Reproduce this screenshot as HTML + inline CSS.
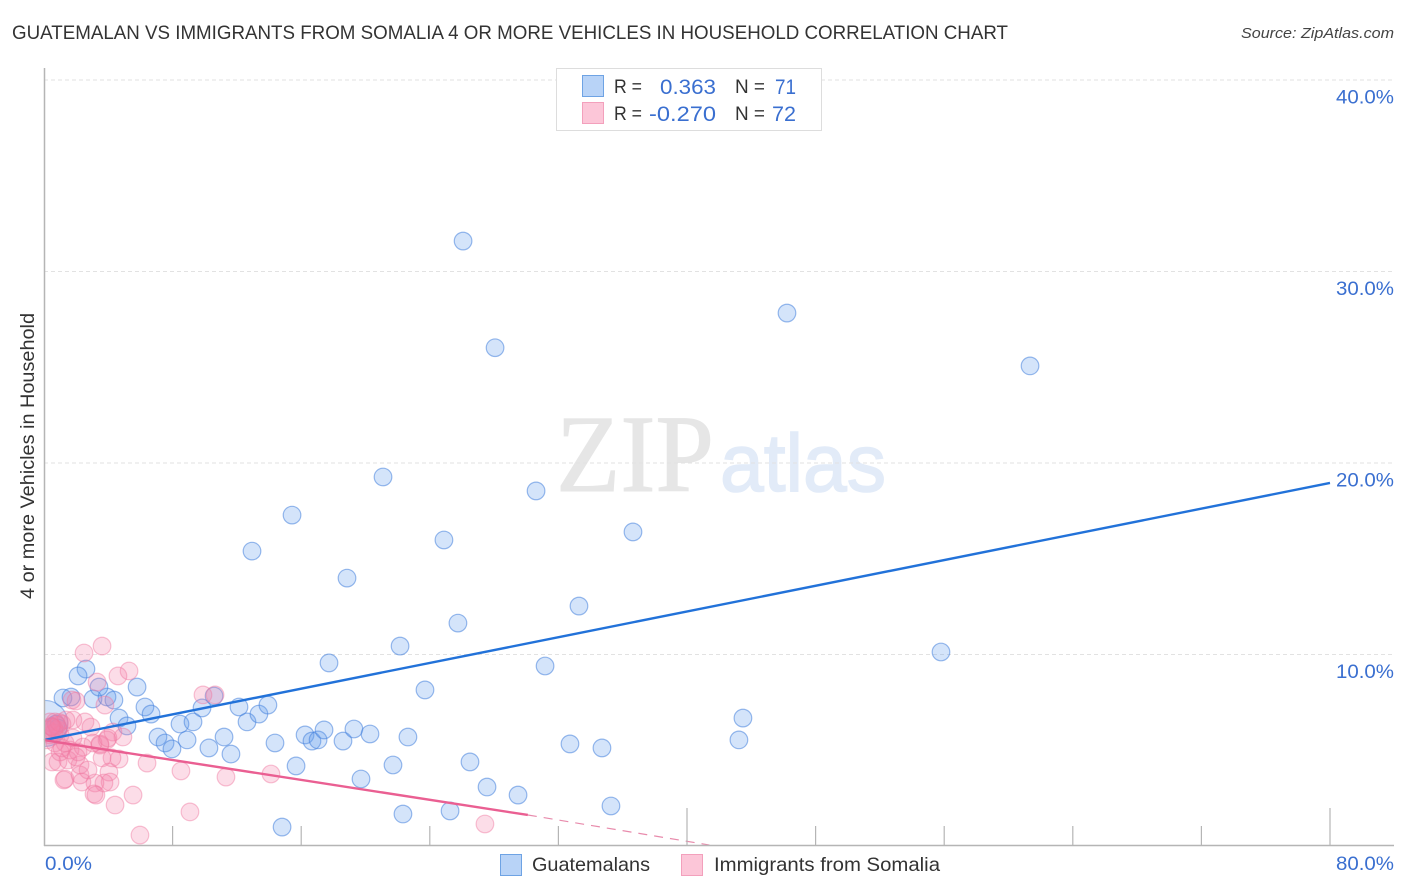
<!DOCTYPE html>
<html lang="en">
<head>
<meta charset="utf-8">
<title>Guatemalan vs Immigrants from Somalia correlation chart</title>
<style>
html,body{margin:0;padding:0;background:#fff;}
svg{display:block;font-family:"Liberation Sans",sans-serif;}
</style>
</head>
<body>
<svg id="chart" width="1406" height="892" viewBox="0 0 1406 892" xmlns="http://www.w3.org/2000/svg">
  <defs><clipPath id="plot-clip"><rect x="44" y="60" width="1350" height="786"/></clipPath></defs>
  <rect width="1406" height="892" fill="#fff"/>
  <text x="12" y="39" font-size="19.5" fill="#333" textLength="996" lengthAdjust="spacingAndGlyphs">GUATEMALAN VS IMMIGRANTS FROM SOMALIA 4 OR MORE VEHICLES IN HOUSEHOLD CORRELATION CHART</text>
  <text x="1241" y="38" font-size="15" font-style="italic" fill="#444" textLength="153" lengthAdjust="spacingAndGlyphs">Source: ZipAtlas.com</text>
  <g>
    <text x="556" y="491" font-family="'Liberation Serif',serif" font-size="110" fill="#e6e6e6" stroke="#e6e6e6" stroke-width="1" textLength="158" lengthAdjust="spacingAndGlyphs">ZIP</text>
    <text x="720" y="491" font-size="82" fill="#e2ebf8" stroke="#e2ebf8" stroke-width="1.5" textLength="166" lengthAdjust="spacingAndGlyphs">atlas</text>
  </g>
  <g id="grid"></g>
  <g id="points" clip-path="url(#plot-clip)"></g>
  <g id="trends"></g>
  <g id="axes"></g>
  <text transform="translate(34,599) rotate(-90)" font-size="19" fill="#333" textLength="286" lengthAdjust="spacingAndGlyphs">4 or more Vehicles in Household</text>

  <g>
    <rect x="556.5" y="68.5" width="265" height="62" fill="#fff" stroke="#ddd" stroke-width="1"/>
    <rect x="582.5" y="75.5" width="21" height="21" fill="#b8d3f7" stroke="#6ea3e4"/>
    <rect x="582.5" y="102.5" width="21" height="21" fill="#fcc6d8" stroke="#f3a0bc"/>
    <text x="614" y="93" font-size="19" fill="#333" textLength="28" lengthAdjust="spacingAndGlyphs">R =</text>
    <text x="660" y="94" font-size="21" fill="#3a6fd0" textLength="56" lengthAdjust="spacingAndGlyphs">0.363</text>
    <text x="735" y="93" font-size="19" fill="#333" textLength="30" lengthAdjust="spacingAndGlyphs">N =</text>
    <text x="775" y="94" font-size="21" fill="#3a6fd0" textLength="21" lengthAdjust="spacingAndGlyphs">71</text>
    <text x="614" y="120" font-size="19" fill="#333" textLength="28" lengthAdjust="spacingAndGlyphs">R =</text>
    <text x="649" y="121" font-size="21" fill="#3a6fd0" textLength="67" lengthAdjust="spacingAndGlyphs">-0.270</text>
    <text x="735" y="120" font-size="19" fill="#333" textLength="30" lengthAdjust="spacingAndGlyphs">N =</text>
    <text x="772" y="121" font-size="21" fill="#3a6fd0" textLength="24" lengthAdjust="spacingAndGlyphs">72</text>
  </g>

  <g>
    <rect x="500.5" y="854.5" width="21" height="21" fill="#b8d3f7" stroke="#6ea3e4"/>
    <text x="532" y="871" font-size="19.5" fill="#333" textLength="118" lengthAdjust="spacingAndGlyphs">Guatemalans</text>
    <rect x="681.5" y="854.5" width="21" height="21" fill="#fcc6d8" stroke="#f3a0bc"/>
    <text x="714" y="871" font-size="19.5" fill="#333" textLength="226" lengthAdjust="spacingAndGlyphs">Immigrants from Somalia</text>
  </g>
</svg>
<script>
var yTicks = [10, 20, 30, 40];
var yTickLabels = ['10.0%', '20.0%', '30.0%', '40.0%'];
var xTicks = [0, 8, 16, 24, 32, 40, 48, 56, 64, 72, 80];
var xMajorTicks = [40, 80];
var xEndLabels = ['0.0%', '80.0%'];

var guatemalanX = [26.07,28.06,46.22,61.34,21.09,30.61,15.43,12.94,24.88,36.64,18.85,33.28,25.75,22.15,55.80,31.17,17.73,23.70,5.79,2.61,2.12,1.18,1.68,3.05,3.92,4.35,3.42,4.67,5.16,6.28,6.66,7.09,7.53,7.96,8.46,8.90,9.27,9.83,10.26,10.58,11.20,11.63,12.13,12.63,13.37,13.93,14.37,15.68,16.24,16.67,17.05,17.42,18.60,19.28,19.72,20.28,21.71,22.33,22.64,25.26,26.50,27.56,29.49,32.72,34.71,35.27,43.23,43.48,14.81,0.75,0.50,0.87];
var guatemalanY = [31.59,26.02,27.83,25.07,19.27,18.54,17.28,15.40,15.98,16.40,13.99,12.53,11.64,10.44,10.13,9.40,9.56,8.15,8.30,9.24,8.88,7.73,7.78,7.68,7.78,7.62,8.30,6.68,6.27,7.26,6.89,5.69,5.38,5.07,6.37,5.54,6.48,7.21,5.12,7.83,5.69,4.80,7.26,6.48,6.89,7.36,5.38,4.18,5.80,5.48,5.54,6.06,5.48,6.11,3.50,5.85,4.23,1.67,5.69,1.83,4.39,3.08,2.66,5.33,5.12,2.09,5.54,6.68,0.99,6.37,6.21,6.16];
var guatemalanLargeX = [0.05];
var guatemalanLargeY = [6.4];

var somaliaX = [3.61,2.49,5.29,4.60,3.30,1.99,10.64,9.89,3.79,1.74,1.80,2.55,2.92,4.29,4.91,3.92,3.48,6.41,8.52,11.32,14.12,4.67,4.23,3.61,4.04,4.11,3.73,3.17,2.36,2.24,1.31,1.24,3.11,3.23,5.54,4.42,9.08,5.97,27.43,0.50,0.87,1.49,2.24,1.12,1.62,2.12,0.68,1.31,1.80,0.37,2.43,3.05,3.48,3.98,0.19,0.50,0.68,0.87,1.12,0.37,0.62,1.00,1.37,0.25,2.74,2.00,1.00,0.80,0.60,0.95,0.45];
var somaliaY = [10.44,10.08,9.14,8.88,8.56,7.57,7.89,7.89,7.36,7.62,6.58,6.48,6.21,5.95,5.69,5.54,5.33,4.33,3.92,3.60,3.76,4.54,4.60,4.60,3.86,3.34,3.29,3.29,3.34,3.71,3.50,3.45,2.72,2.66,2.66,2.14,1.78,0.57,1.15,4.39,4.39,4.49,4.23,5.12,5.01,4.91,5.38,5.38,5.64,5.80,5.17,5.38,5.27,5.64,5.54,6.21,6.48,6.06,6.37,6.48,5.90,5.80,6.58,6.06,3.97,4.65,4.91,6.30,6.15,6.45,6.25];

var guatemalanTrendX = [0, 80];
var guatemalanTrendY = [5.53, 18.96];
var somaliaTrendX = [0, 30.1];
var somaliaTrendY = [5.53, 1.62];
var somaliaDashX = [30.1, 41.4];
var somaliaDashY = [1.62, 0.05];

var NS = 'http://www.w3.org/2000/svg';
function xScale(v) { return 44 + v * 16.075; }
function yScale(v) { return 846 - v * 19.15; }
function make(parent, tag, attrs, text) {
  var el = document.createElementNS(NS, tag);
  for (var k in attrs) { el.setAttribute(k, attrs[k]); }
  if (text !== undefined) { el.textContent = text; }
  parent.appendChild(el);
  return el;
}

var grid = document.getElementById('grid');
var axes = document.getElementById('axes');
var points = document.getElementById('points');
var trends = document.getElementById('trends');

yTicks.forEach(function (v, i) {
  var line = make(grid, 'line', {x1: 44, x2: 1394, y1: yScale(v), y2: yScale(v), stroke: '#e2e2e2', 'stroke-width': 1, 'stroke-dasharray': '4 3'});
  
  
  var label = make(axes, 'text', {x: 1394, y: yScale(v) + 23.5, 'font-size': 19.5, fill: '#3a6fd0', 'text-anchor': 'end', textLength: 58, lengthAdjust: 'spacingAndGlyphs'}, yTickLabels[i]);
  
  
});

var yAxis = make(axes, 'line', {x1: 44.5, x2: 44.5, y1: 68, y2: 846, stroke: '#b5b5b5', 'stroke-width': 1.5});


var xAxis = make(axes, 'line', {x1: 44, x2: 1394, y1: 845.5, y2: 845.5, stroke: '#b5b5b5', 'stroke-width': 1.5});



xTicks.slice(1).forEach(function (v) {
  var top = xMajorTicks.indexOf(v) >= 0 ? 808 : 826;
  var tick = make(axes, 'line', {x1: xScale(v), x2: xScale(v), y1: top, y2: 846, stroke: '#b5b5b5', 'stroke-width': 1.2});
  
  
});

var xStart = make(axes, 'text', {x: 45, y: 870, 'font-size': 19.5, fill: '#3a6fd0', textLength: 47, lengthAdjust: 'spacingAndGlyphs'}, xEndLabels[0]);


var xEnd = make(axes, 'text', {x: 1394, y: 870, 'font-size': 19.5, fill: '#3a6fd0', 'text-anchor': 'end', textLength: 58, lengthAdjust: 'spacingAndGlyphs'}, xEndLabels[1]);



guatemalanLargeX.forEach(function (v, i) {
  var big = make(points, 'circle', {cx: xScale(v), cy: yScale(guatemalanLargeY[i]), r: 23, fill: 'rgba(95,155,235,0.26)', stroke: 'rgba(70,130,220,0.5)', 'stroke-width': 1.2});
  
  
});
guatemalanX.forEach(function (v, i) {
  var dot = make(points, 'circle', {cx: xScale(v), cy: yScale(guatemalanY[i]), r: 8.8, fill: 'rgba(95,155,235,0.27)', stroke: 'rgba(70,130,220,0.55)', 'stroke-width': 1.2});
  
  
});
somaliaX.forEach(function (v, i) {
  var dot = make(points, 'circle', {cx: xScale(v), cy: yScale(somaliaY[i]), r: 8.8, fill: 'rgba(245,130,170,0.27)', stroke: 'rgba(240,120,160,0.45)', 'stroke-width': 1.2});
  
  
});

var blueLine = make(trends, 'line', {x1: xScale(guatemalanTrendX[0]), y1: yScale(guatemalanTrendY[0]), x2: xScale(guatemalanTrendX[1]), y2: yScale(guatemalanTrendY[1]), stroke: '#2272d9', 'stroke-width': 2.4});


var pinkLine = make(trends, 'line', {x1: xScale(somaliaTrendX[0]), y1: yScale(somaliaTrendY[0]), x2: xScale(somaliaTrendX[1]), y2: yScale(somaliaTrendY[1]), stroke: '#ea5f92', 'stroke-width': 2.4});


var pinkDash = make(trends, 'line', {x1: xScale(somaliaDashX[0]), y1: yScale(somaliaDashY[0]), x2: xScale(somaliaDashX[1]), y2: yScale(somaliaDashY[1]), stroke: '#e88bac', 'stroke-width': 1.2, 'stroke-dasharray': '9 7'});


</script>
</body>
</html>
